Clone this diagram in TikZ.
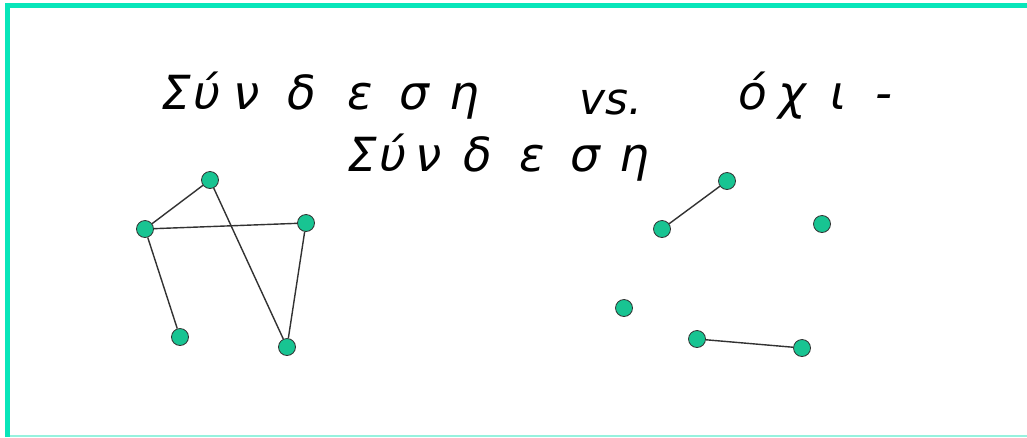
\documentclass[tikz,border=0pt]{standalone}
\usepackage{fontspec}
\setmainfont{DejaVu Sans}
\definecolor{frame}{RGB}{8,230,186}
\definecolor{framelight}{RGB}{150,242,222}
\definecolor{vert}{RGB}{24,196,146}
\definecolor{edgec}{RGB}{50,50,50}
\newcommand\gl[2]{\makebox[#1pt]{#2}}
\begin{document}
\begin{tikzpicture}[x=1pt,y=-1pt,
  vtx/.style={circle,fill=vert,draw=edgec,line width=0.8pt,minimum size=17pt,inner sep=0pt},
  edg/.style={draw=edgec,line width=1.4pt},
  ttl/.style={font=\fontsize{44}{46}\selectfont\itshape,inner sep=0pt,anchor=base west},
  grk/.style={font=\fontsize{47}{49}\selectfont\itshape,inner sep=0pt,anchor=base west}]
\useasboundingbox (0,0) rectangle (1027,437);
\fill[white] (0,0) rectangle (1027,437);
% frame
\draw[frame,line width=5pt] (7.5,437) -- (7.5,5.5) -- (1027,5.5);
\draw[framelight,line width=2pt] (10,436) -- (1027,436);
% title
\node[grk] (t1) at (160,109) {\gl{32}{Σ}\gl{29}{ύ}\gl{50}{ν}\gl{62}{δ}\gl{54.5}{ε}\gl{53}{σ}\gl{48}{η}};
\node[ttl] (t2) at (579,114) {vs.};
\node[grk] (t3) at (735,109) {\gl{35.5}{ό}\gl{43.5}{χ}\gl{49.5}{ι}\gl{41.5}{-}};
\node[grk] (t4) at (346,171) {\gl{32}{Σ}\gl{29}{ύ}\gl{42.5}{ν}\gl{55.5}{δ}\gl{54}{ε}\gl{51.5}{σ}\gl{48}{η}};
% left graph
\node[vtx] (a) at (210,180) {};
\node[vtx] (b) at (145,229) {};
\node[vtx] (c) at (306,223) {};
\node[vtx] (d) at (180,337) {};
\node[vtx] (e) at (287,347) {};
\draw[edg] (a) -- (b);
\draw[edg] (b) -- (c);
\draw[edg] (b) -- (d);
\draw[edg] (a) -- (e);
\draw[edg] (c) -- (e);
% right graph
\node[vtx] (f) at (727,181) {};
\node[vtx] (g) at (662,229) {};
\node[vtx] (h) at (822,224) {};
\node[vtx] (i) at (624,308) {};
\node[vtx] (j) at (697,339) {};
\node[vtx] (k) at (802,348) {};
\draw[edg] (g) -- (f);
\draw[edg] (j) -- (k);
\end{tikzpicture}
\end{document}
